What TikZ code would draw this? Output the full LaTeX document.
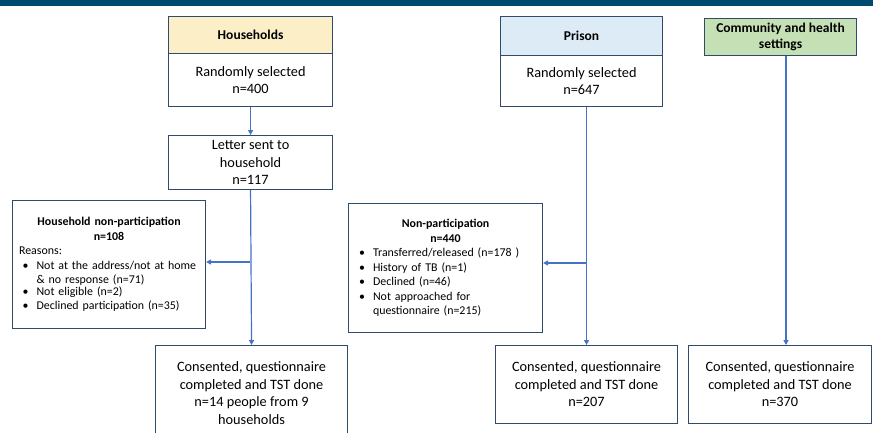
\documentclass[tikz,border=0pt]{standalone}
\usepackage{fontspec}
\setmainfont{Carlito}
\usetikzlibrary{arrows.meta}
\definecolor{barcol}{HTML}{004A70}
\definecolor{edgecol}{HTML}{2F4A6B}
\definecolor{conncol}{HTML}{4472C4}
\definecolor{hhfill}{HTML}{FCEFC8}
\definecolor{prfill}{HTML}{DDEBF7}
\definecolor{cmfill}{HTML}{C5E0B4}
\newcommand\bulitem[1]{\par\noindent\hspace*{3.5pt}\makebox[14pt][l]{•}\parbox[t]{160pt}{\raggedright #1}}
\begin{document}
\begin{tikzpicture}[x=1pt,y=-1pt,
  box/.style={draw=edgecol, line width=1.1pt, inner sep=0pt, anchor=north west, align=center,
    font=\fontsize{14.3}{17.5}\selectfont},
  head/.style={box, font=\bfseries\fontsize{13.5}{16}\selectfont},
  small/.style={box, align=left, font=\fontsize{11.9}{14.5}\selectfont},
  arr/.style={draw=conncol, line width=1.2pt, -{Triangle[length=5pt,width=5pt]}}
]
\clip (0,0) rectangle (873,432);
\fill[white] (0,0) rectangle (873,432);
\fill[barcol] (0,0) rectangle (873,6);

% Households
\node[head, fill=hhfill, minimum width=164pt, minimum height=37pt] (hhhead) at (168,16) {Households};
\node[box, minimum width=164pt, minimum height=53pt] (hhsel) at (168,53) {Randomly selected\\n=400};
\node[box, minimum width=164pt, minimum height=54pt] (letter) at (168,135) {Letter sent to\\household\\n=117};
\node[small, minimum width=193pt, minimum height=128pt, text width=180pt] (hhnp) at (12,200)
  {{\centering\bfseries Household non-participation\\n=108\par}
   \noindent Reasons:
   \bulitem{Not at the address/not at home\\\& no response (n=71)}
   \bulitem{Not eligible (n=2)}
   \bulitem{Declined participation (n=35)}};
\node[box, minimum width=192pt, minimum height=95pt] (hhcons) at (155,345)
  {Consented, questionnaire\\completed and TST done\\n=14 people from 9\\households};

% Prison
\node[head, fill=prfill, minimum width=162pt, minimum height=39pt] (prhead) at (500,16) {Prison};
\node[box, minimum width=162pt, minimum height=51pt] (prsel) at (500,55) {Randomly selected\\n=647};
\node[small, minimum width=194pt, minimum height=129pt, text width=180pt] (prnp) at (348,203)
  {{\centering\bfseries Non-participation\\n=440\par}
   \bulitem{Transferred/released (n=178 )}
   \bulitem{History of TB (n=1)}
   \bulitem{Declined (n=46)}
   \bulitem{Not approached for\\questionnaire (n=215)}};
\node[box, minimum width=182pt, minimum height=78pt] (prcons) at (495,345)
  {Consented, questionnaire\\completed and TST done\\n=207};

% Community
\node[head, fill=cmfill, minimum width=152pt, minimum height=37pt] (cmhead) at (704,18)
  {Community and health\\settings};
\node[box, minimum width=183pt, minimum height=78pt] (cmcons) at (688,345)
  {Consented, questionnaire\\completed and TST done\\n=370};

% connectors
\draw[arr] (hhsel.south) -- (letter.north);
\draw[arr] (letter.south) -- (hhcons.north);
\coordinate (hhbr) at (250,262);
\draw[arr] (hhbr) -- (hhbr -| hhnp.east);
\draw[arr] (prcons.north |- prsel.south) -- (prcons.north);
\coordinate (prbr) at (586,263);
\draw[arr] (prbr) -- (prbr -| prnp.east);
\coordinate (cmx) at (786,0);
\draw[arr] (cmx |- cmhead.south) -- (cmx |- cmcons.north);
\end{tikzpicture}
\end{document}
